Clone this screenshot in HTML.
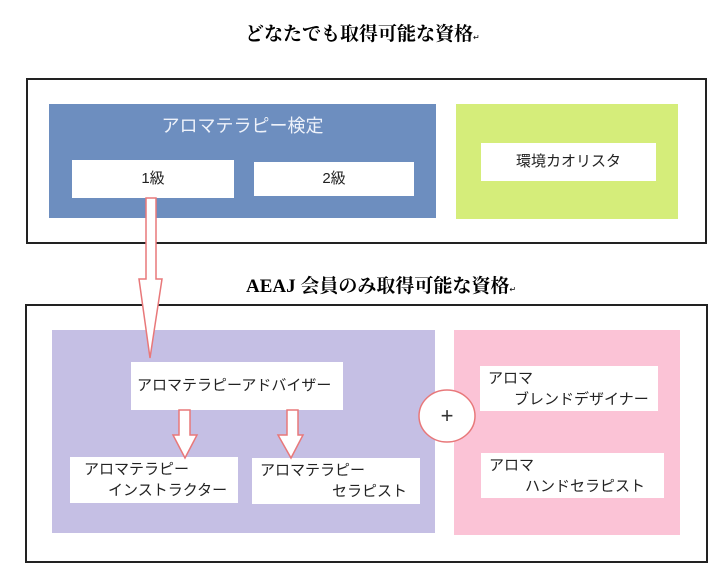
<!DOCTYPE html>
<html><head><meta charset="utf-8"><style>
body{margin:0;width:712px;height:570px;background:#fff;position:relative;overflow:hidden;font-family:"Liberation Sans","Noto Sans CJK JP",sans-serif;}
.a{position:absolute;box-sizing:border-box;}
.w{background:#fff;color:#222;font-size:15px;}
.t{font-family:"Liberation Serif","Noto Serif CJK SC",serif;font-weight:bold;font-size:19px;color:#000;white-space:nowrap;}
</style></head><body>
<div class="a t" style="left:245px;top:19px;">どなたでも取得可能な資格<span style="font-size:8px;font-weight:normal">↵</span></div>
<div class="a" style="left:26px;top:78px;width:681px;height:166px;border:2px solid #222;"></div>
<div class="a" style="left:49px;top:104px;width:387px;height:114px;background:#6d8ebf;"></div>
<div class="a" style="left:49px;top:112px;width:387px;text-align:center;color:#eef2fa;font-size:18px;">アロマテラピー検定</div>
<div class="a w" style="left:72px;top:160px;width:162px;height:38px;text-align:center;line-height:38px;">1級</div>
<div class="a w" style="left:254px;top:162px;width:160px;height:34px;text-align:center;line-height:34px;">2級</div>
<div class="a" style="left:456px;top:104px;width:222px;height:115px;background:#d5ed7a;"></div>
<div class="a w" style="left:481px;top:143px;width:175px;height:38px;text-align:center;line-height:38px;">環境カオリスタ</div>
<div class="a t" style="left:246px;top:271px;">AEAJ 会員のみ取得可能な資格<span style="font-size:8px;font-weight:normal">↵</span></div>
<div class="a" style="left:25px;top:304px;width:683px;height:259px;border:2px solid #222;"></div>
<div class="a" style="left:52px;top:330px;width:383px;height:203px;background:#c5bfe4;"></div>
<div class="a" style="left:454px;top:330px;width:226px;height:205px;background:#fbc3d6;"></div>
<div class="a w" style="left:131px;top:362px;width:212px;height:48px;line-height:48px;padding-left:6px;">アロマテラピーアドバイザー</div>
<div class="a w" style="left:70px;top:457px;width:168px;height:46px;padding:2px 0 0 14px;line-height:21px;">アロマテラピー<br><span style="padding-left:24px">インストラクター</span></div>
<div class="a w" style="left:252px;top:458px;width:168px;height:46px;padding:2px 0 0 8px;line-height:21px;">アロマテラピー<br><span style="padding-left:72px">セラピスト</span></div>
<div class="a w" style="left:480px;top:366px;width:178px;height:45px;padding:2px 0 0 8px;line-height:21px;">アロマ<br><span style="padding-left:26px">ブレンドデザイナー</span></div>
<div class="a w" style="left:481px;top:453px;width:183px;height:45px;padding:2px 0 0 8px;line-height:21px;">アロマ<br><span style="padding-left:36px">ハンドセラピスト</span></div>
<svg class="a" style="left:0;top:0" width="712" height="570">
<g fill="#fff" stroke="#e8787a" stroke-width="1.5">
<path d="M146,198 H156 V279 H162 L150,358 L139,279 H146 Z"/>
<path d="M179,410 H190 V435 H197 L185,458 L173,435 H179 Z"/>
<path d="M287,410 H298 V435 H303 L291,458 L278,435 H287 Z"/>
<ellipse cx="447" cy="416" rx="28" ry="26"/>
</g>
<text x="447" y="423" text-anchor="middle" font-size="22" fill="#333" font-family="Liberation Sans">+</text>
</svg>
</body></html>
